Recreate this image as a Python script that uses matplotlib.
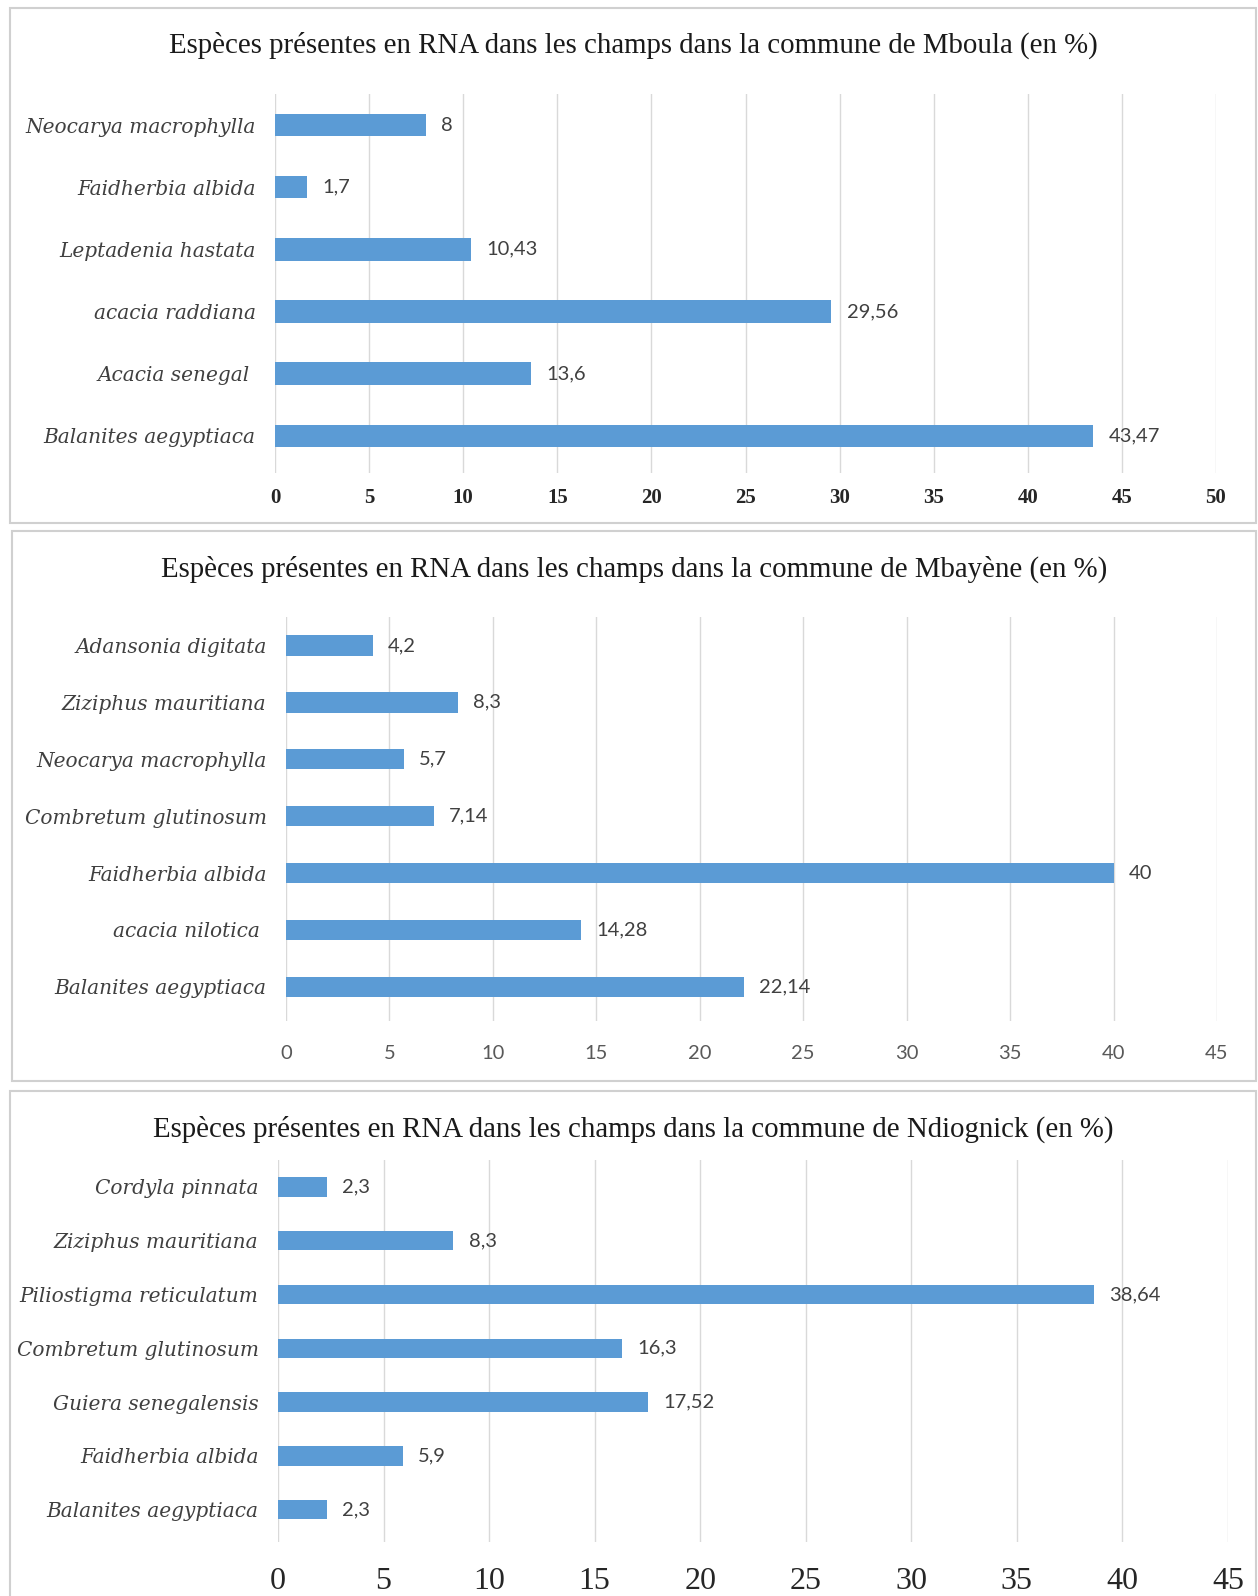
import matplotlib.pyplot as plt
from matplotlib.patches import Rectangle

W, H = 1258, 1596

# --- données ---
titles = [
    "Espèces présentes en RNA dans les champs dans la commune de Mboula (en %)",
    "Espèces présentes en RNA dans les champs dans la commune de Mbayène (en %)",
    "Espèces présentes en RNA dans les champs dans la commune de Ndiognick (en %)",
]

especes_mboula = ["Neocarya macrophylla", "Faidherbia albida", "Leptadenia hastata",
                  "acacia raddiana", "Acacia senegal ", "Balanites aegyptiaca"]
valeurs_mboula = [8, 1.7, 10.43, 29.56, 13.6, 43.47]

especes_mbayene = ["Adansonia digitata", "Ziziphus mauritiana", "Neocarya macrophylla",
                   "Combretum glutinosum", "Faidherbia albida", "acacia nilotica ",
                   "Balanites aegyptiaca"]
valeurs_mbayene = [4.2, 8.3, 5.7, 7.14, 40, 14.28, 22.14]

especes_ndiognick = ["Cordyla pinnata", "Ziziphus mauritiana", "Piliostigma reticulatum",
                     "Combretum glutinosum", "Guiera senegalensis", "Faidherbia albida",
                     "Balanites aegyptiaca"]
valeurs_ndiognick = [2.3, 8.3, 38.64, 16.3, 17.52, 5.9, 2.3]

xmax = [50, 45, 45]

# --- mise en page (pixels) ---
panels = [
    dict(box=(10, 8, 1256, 523), ax=(275, 1216, 94, 473), title_y=45,
         tick_font=dict(family="Liberation Serif", size=15, weight="bold", color="#262626"), tick_pad=11),
    dict(box=(12, 531, 1256, 1081), ax=(286, 1217, 617, 1021), title_y=569,
         tick_font=dict(family="Lato", size=14.5, color="#595959"), tick_pad=17),
    dict(box=(10, 1091, 1256, 1600), ax=(278, 1228, 1160, 1542), title_y=1129,
         tick_font=dict(family="Liberation Serif", size=23, color="#262626"), tick_pad=18),
]
data = [(especes_mboula, valeurs_mboula),
        (especes_mbayene, valeurs_mbayene),
        (especes_ndiognick, valeurs_ndiognick)]

fig = plt.figure(figsize=(W / 100, H / 100), dpi=100)
fig.patch.set_facecolor("white")

for i, (p, (cats, vals)) in enumerate(zip(panels, data)):
    x0, y0, x1, y1 = p["box"]
    fig.add_artist(Rectangle((x0 / W, 1 - y1 / H), (x1 - x0) / W, (y1 - y0) / H,
                             transform=fig.transFigure, fill=False,
                             edgecolor="#d0d0d0", lw=1.5))
    fig.text(0.5 * (x0 + x1) / W, 1 - p["title_y"] / H, titles[i],
             ha="center", va="center", family="Liberation Serif", size=20.8, color="#1a1a1a")

    l, r, t, b = p["ax"]
    ax = fig.add_axes([l / W, 1 - b / H, (r - l) / W, (b - t) / H])
    pos = range(len(cats))
    ax.barh(pos, vals, height=0.36, color="#5B9BD5", zorder=3)
    ax.set_xlim(0, xmax[i])
    ax.set_ylim(len(cats) - 0.4, -0.5)
    ax.set_xticks(range(0, xmax[i] + 1, 5))
    ax.set_yticks(list(pos))
    ax.set_yticklabels(cats, family="DejaVu Serif", style="italic", size=14.5, color="#404040")
    for lab in ax.get_xticklabels():
        lab.set(**p["tick_font"])
    ax.tick_params(axis="x", length=0, pad=p["tick_pad"])
    ax.tick_params(axis="y", length=0, pad=14)
    ax.grid(axis="x", color="#d9d9d9", lw=1, zorder=0)
    for s in ax.spines.values():
        s.set_visible(False)
    for y, v in zip(pos, vals):
        ax.annotate(f"{v:g}".replace(".", ","), (v, y), xytext=(11, 0),
                    textcoords="offset points", va="center", ha="left",
                    family="Lato", size=14.5, color="#404040")

fig.savefig("out.png", dpi=100, facecolor="white")
